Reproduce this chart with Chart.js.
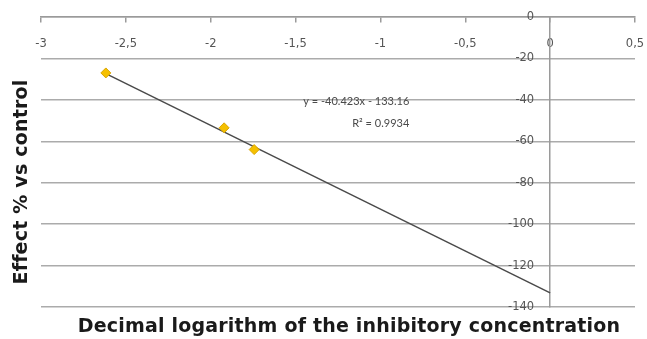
<!DOCTYPE html>
<html>
<head>
<meta charset="utf-8">
<script src="https://cdn.jsdelivr.net/npm/chart.js@4.4.0/dist/chart.umd.min.js"></script>
<style>
  html, body { margin: 0; padding: 0; background: #fff; }
  #wrap { width: 647px; height: 339px; position: relative; }
</style>
</head>
<body>
<div id="wrap"><canvas id="chart"></canvas></div>
<script>
// measured points (log of inhibitory concentration vs effect %)
const logConc = [-2.618, -1.921, -1.744];
const effect = [-27.0, -53.5, -64.0];

// linear trend line, ends
const trendX = [-2.618, 0];
const trendY = [-27.3, -133.16];

const xTicks = [-3, -2.5, -2, -1.5, -1, -0.5, 0, 0.5];
const yTicks = [0, -20, -40, -60, -80, -100, -120, -140];

const equation = ['y = -40.423x - 133.16', 'R² = 0.9934'];
const xTitle = 'Decimal logarithm of the inhibitory concentration';
const yTitle = 'Effect % vs control';

const axisGray = '#9a9a9a';
const labelGray = '#555555';
const tickFont = { family: 'DejaVu Sans', size: 11.5 };

// Texte: Achsentitel und Gleichung der Trendlinie
const textPlugin = {
    id: 'extraText',
    afterDraw(chart) {
        const ctx = chart.ctx;
        const sx = chart.scales.x;
        const sy = chart.scales.y;
        ctx.save();

        ctx.fillStyle = '#4a4a4a';
        ctx.font = '11px Lato';
        ctx.textAlign = 'right';
        ctx.textBaseline = 'middle';
        ctx.fillText(equation[0], sx.getPixelForValue(-0.83), sy.getPixelForValue(-41));
        ctx.fillText(equation[1], sx.getPixelForValue(-0.83), sy.getPixelForValue(-51.5));

        ctx.fillStyle = '#1a1a1a';
        ctx.font = 'bold 19px "DejaVu Sans"';
        ctx.letterSpacing = '0.2px';
        ctx.textAlign = 'center';
        ctx.fillText(xTitle, 349, 327);

        ctx.translate(22, 182);
        ctx.rotate(-Math.PI / 2);
        ctx.fillText(yTitle, 0, 0);

        ctx.restore();
    }
};

const ctx = document.getElementById('chart').getContext('2d');

new Chart(ctx, {
    type: 'scatter',
    data: {
        datasets: [{
            label: 'Effect',
            data: logConc.map((v, i) => ({ x: v, y: effect[i] })),
            pointStyle: 'rectRot',
            pointRadius: 5,
            pointHoverRadius: 5,
            backgroundColor: '#f5c000',
            borderColor: '#d9a400',
            borderWidth: 1,
            order: 1
        }, {
            label: 'Trend',
            type: 'line',
            data: trendX.map((v, i) => ({ x: v, y: trendY[i] })),
            borderColor: '#4a4a4a',
            borderWidth: 1.5,
            pointRadius: 0,
            fill: false,
            order: 2
        }]
    },
    options: {
        responsive: true,
        maintainAspectRatio: false,
        animation: false,
        layout: { padding: { left: 41, right: 12, top: 17, bottom: 32 } },
        plugins: {
            legend: { display: false },
            tooltip: { enabled: false }
        },
        scales: {
            x: {
                type: 'linear',
                position: { y: 0 },
                min: -3,
                max: 0.5,
                afterBuildTicks: (axis) => { axis.ticks = xTicks.map(v => ({ value: v })); },
                // Randabstand der Beschriftung nicht reservieren
                afterFit: (axis) => { axis.paddingLeft = 0; axis.paddingRight = 0; },
                ticks: {
                    color: labelGray,
                    font: tickFont,
                    padding: 15,
                    maxRotation: 0,
                    callback: (v) => String(v).replace('.', ',')
                },
                grid: {
                    drawOnChartArea: false,
                    drawTicks: true,
                    tickLength: 5,
                    color: axisGray,
                    lineWidth: 1.5
                },
                border: { display: true, color: axisGray, width: 1.5 }
            },
            y: {
                type: 'linear',
                position: { x: 0 },
                min: -140,
                max: 0,
                afterBuildTicks: (axis) => { axis.ticks = yTicks.map(v => ({ value: v })); },
                ticks: { display: false },
                grid: {
                    drawTicks: false,
                    color: '#ababab',
                    lineWidth: 1.5
                },
                border: { display: true, color: axisGray, width: 1.5 }
            },
            // nur für die Beschriftung, etwas links von der y-Achse
            yLabels: {
                type: 'linear',
                axis: 'y',
                position: { x: -0.094 },
                min: -140,
                max: 0,
                afterBuildTicks: (axis) => { axis.ticks = yTicks.map(v => ({ value: v })); },
                afterFit: (axis) => { axis.width = 0; },
                ticks: { color: labelGray, font: tickFont, padding: 0 },
                grid: { display: false },
                border: { display: false }
            }
        }
    },
    plugins: [textPlugin]
});
</script>
</body>
</html>
